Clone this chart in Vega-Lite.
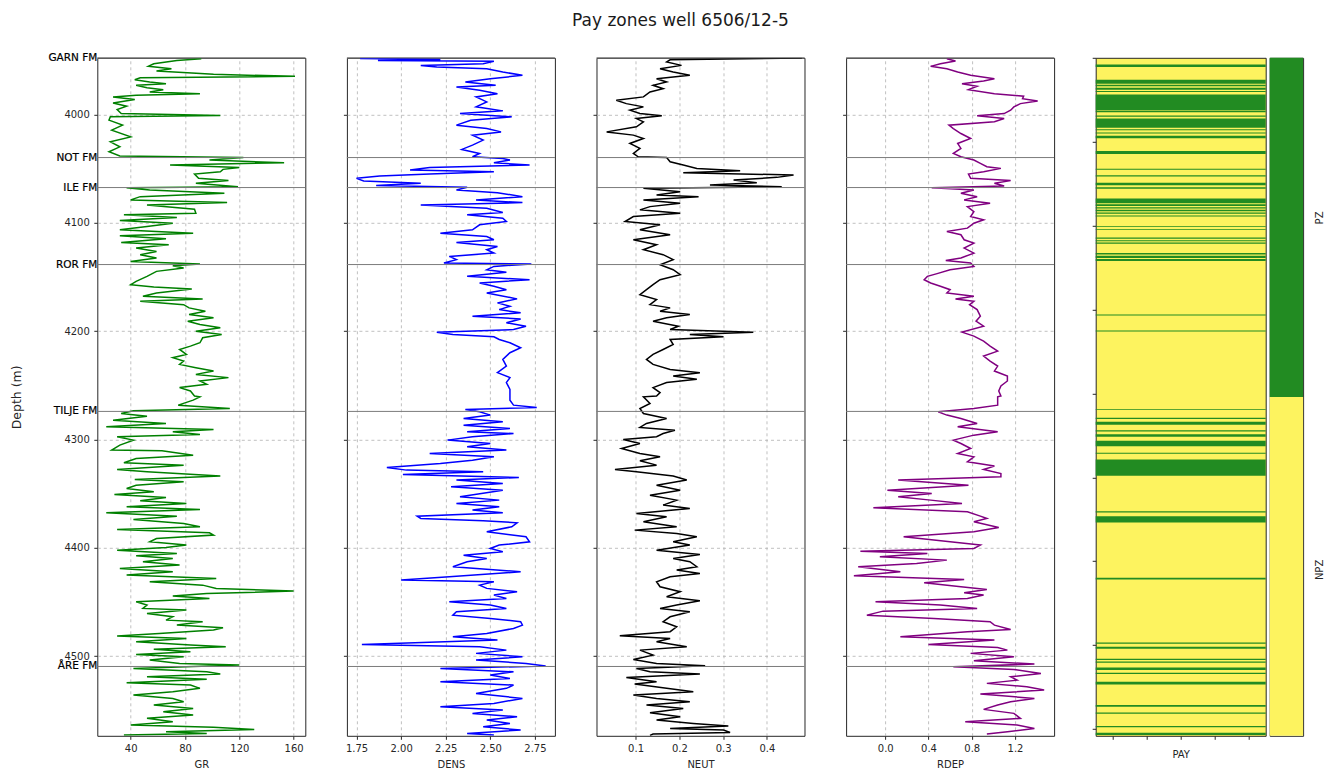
{
"$schema": "https://vega.github.io/schema/vega-lite/v6.json",
"padding": {"left": 10.3, "top": 11.8, "right": 5, "bottom": 5},
"title": {"text": "Pay zones well 6506/12-5", "fontSize": 17, "font": "DejaVu Sans", "fontWeight": "normal", "color": "#1a1a1a", "anchor": "middle", "offset": 22.5, "dx": 13},
"config": {
  "font": "DejaVu Sans",
  "view": {"stroke": "#262626", "strokeWidth": 1},
  "axis": {"labelFont": "DejaVu Sans", "labelFontSize": 10, "labelColor": "#262626", "titleFont": "DejaVu Sans", "titleFontSize": 10, "titleFontWeight": "normal", "titleColor": "#262626", "tickColor": "#262626", "tickSize": 3.5, "domain": false, "gridColor": "#b0b0b0", "gridDash": [3, 3], "gridWidth": 0.8, "labelPadding": 4.5, "labelFlush": false, "titlePadding": 6}
},
"datasets": {
"tops": [{"name": "GARN FM", "depth": 3947.6}, {"name": "NOT FM", "depth": 4039.7}, {"name": "ILE FM", "depth": 4067.4}, {"name": "ROR FM", "depth": 4138.5}, {"name": "TILJE FM", "depth": 4274.1}, {"name": "ÅRE FM", "depth": 4509.6}],
"gr": [
{"depth":3948.5,"GR":92},{"depth":3950.0,"GR":74},{"depth":3953.1,"GR":57},{"depth":3955.5,"GR":53},{"depth":3957.7,"GR":70},{"depth":3959.8,"GR":59},{"depth":3961.7,"GR":85},{"depth":3962.9,"GR":101},{"depth":3964.7,"GR":161},{"depth":3966.0,"GR":47},{"depth":3967.8,"GR":43},{"depth":3969.9,"GR":54},{"depth":3971.5,"GR":66},{"depth":3973.0,"GR":44},{"depth":3975.2,"GR":52},{"depth":3977.0,"GR":64},{"depth":3979.1,"GR":54},{"depth":3980.7,"GR":91},{"depth":3982.2,"GR":44},{"depth":3983.7,"GR":27},{"depth":3986.2,"GR":43},{"depth":3989.3,"GR":27},{"depth":3992.3,"GR":37},{"depth":3995.4,"GR":30},{"depth":3999.1,"GR":33},{"depth":4000.9,"GR":106},{"depth":4002.1,"GR":25},{"depth":4005.2,"GR":24},{"depth":4009.8,"GR":34},{"depth":4014.4,"GR":26},{"depth":4020.6,"GR":40},{"depth":4025.2,"GR":25},{"depth":4029.8,"GR":32},{"depth":4034.4,"GR":24},{"depth":4038.3,"GR":32},{"depth":4039.6,"GR":123},{"depth":4042.0,"GR":98},{"depth":4044.5,"GR":153},{"depth":4046.6,"GR":69},{"depth":4048.8,"GR":120},{"depth":4050.6,"GR":108},{"depth":4052.8,"GR":106},{"depth":4054.9,"GR":87},{"depth":4058.9,"GR":90},{"depth":4061.0,"GR":112},{"depth":4063.5,"GR":88},{"depth":4066.6,"GR":119},{"depth":4067.5,"GR":37},{"depth":4069.6,"GR":54},{"depth":4072.7,"GR":109},{"depth":4075.8,"GR":47},{"depth":4078.8,"GR":40},{"depth":4081.3,"GR":111},{"depth":4083.4,"GR":52},{"depth":4087.4,"GR":87},{"depth":4091.1,"GR":88},{"depth":4092.6,"GR":35},{"depth":4095.1,"GR":74},{"depth":4097.9,"GR":32},{"depth":4100.3,"GR":71},{"depth":4103.4,"GR":52},{"depth":4106.4,"GR":32},{"depth":4109.5,"GR":86},{"depth":4112.0,"GR":32},{"depth":4114.7,"GR":66},{"depth":4118.1,"GR":33},{"depth":4120.2,"GR":68},{"depth":4123.3,"GR":44},{"depth":4126.4,"GR":59},{"depth":4129.4,"GR":47},{"depth":4132.5,"GR":59},{"depth":4135.6,"GR":40},{"depth":4138.0,"GR":91},{"depth":4139.6,"GR":71},{"depth":4141.7,"GR":79},{"depth":4144.8,"GR":59},{"depth":4149.4,"GR":52},{"depth":4154.0,"GR":44},{"depth":4157.1,"GR":40},{"depth":4159.2,"GR":57},{"depth":4161.0,"GR":85},{"depth":4164.7,"GR":59},{"depth":4167.8,"GR":49},{"depth":4170.2,"GR":93},{"depth":4172.4,"GR":47},{"depth":4175.5,"GR":79},{"depth":4178.5,"GR":83},{"depth":4181.6,"GR":95},{"depth":4184.7,"GR":83},{"depth":4187.7,"GR":101},{"depth":4190.8,"GR":82},{"depth":4193.9,"GR":91},{"depth":4196.9,"GR":106},{"depth":4200.0,"GR":88},{"depth":4203.1,"GR":107},{"depth":4206.1,"GR":93},{"depth":4210.7,"GR":91},{"depth":4213.8,"GR":84},{"depth":4216.9,"GR":76},{"depth":4221.5,"GR":81},{"depth":4224.5,"GR":71},{"depth":4227.6,"GR":79},{"depth":4230.7,"GR":76},{"depth":4233.7,"GR":88},{"depth":4236.8,"GR":101},{"depth":4239.9,"GR":88},{"depth":4242.9,"GR":112},{"depth":4246.0,"GR":91},{"depth":4249.1,"GR":96},{"depth":4252.1,"GR":76},{"depth":4255.2,"GR":84},{"depth":4259.8,"GR":87},{"depth":4260.6,"GR":91},{"depth":4263.7,"GR":86},{"depth":4268.3,"GR":75},{"depth":4271.4,"GR":113},{"depth":4273.5,"GR":42},{"depth":4276.0,"GR":33},{"depth":4278.5,"GR":52},{"depth":4282.2,"GR":27},{"depth":4285.2,"GR":66},{"depth":4288.3,"GR":22},{"depth":4290.8,"GR":101},{"depth":4292.9,"GR":71},{"depth":4295.4,"GR":91},{"depth":4297.5,"GR":30},{"depth":4300.6,"GR":42},{"depth":4305.2,"GR":32},{"depth":4309.8,"GR":26},{"depth":4310.5,"GR":63},{"depth":4314.5,"GR":86},{"depth":4317.5,"GR":44},{"depth":4321.5,"GR":35},{"depth":4323.7,"GR":79},{"depth":4327.7,"GR":30},{"depth":4329.8,"GR":52},{"depth":4333.8,"GR":106},{"depth":4336.9,"GR":43},{"depth":4339.1,"GR":79},{"depth":4342.2,"GR":44},{"depth":4345.2,"GR":37},{"depth":4348.3,"GR":57},{"depth":4350.8,"GR":28},{"depth":4353.5,"GR":66},{"depth":4356.6,"GR":47},{"depth":4359.1,"GR":81},{"depth":4362.2,"GR":37},{"depth":4364.6,"GR":91},{"depth":4367.7,"GR":22},{"depth":4370.8,"GR":74},{"depth":4373.8,"GR":42},{"depth":4377.5,"GR":79},{"depth":4380.6,"GR":91},{"depth":4383.1,"GR":30},{"depth":4386.2,"GR":98},{"depth":4388.3,"GR":101},{"depth":4391.4,"GR":59},{"depth":4394.5,"GR":54},{"depth":4397.5,"GR":81},{"depth":4399.7,"GR":66},{"depth":4402.2,"GR":30},{"depth":4405.2,"GR":74},{"depth":4407.4,"GR":44},{"depth":4409.8,"GR":71},{"depth":4412.9,"GR":49},{"depth":4416.0,"GR":76},{"depth":4419.1,"GR":32},{"depth":4422.2,"GR":71},{"depth":4425.2,"GR":37},{"depth":4428.3,"GR":103},{"depth":4431.4,"GR":54},{"depth":4434.5,"GR":93},{"depth":4437.5,"GR":103},{"depth":4440.0,"GR":160},{"depth":4442.2,"GR":96},{"depth":4444.6,"GR":71},{"depth":4446.8,"GR":98},{"depth":4449.8,"GR":44},{"depth":4452.9,"GR":52},{"depth":4456.0,"GR":49},{"depth":4457.5,"GR":81},{"depth":4460.6,"GR":52},{"depth":4463.7,"GR":71},{"depth":4466.8,"GR":66},{"depth":4468.3,"GR":93},{"depth":4471.4,"GR":74},{"depth":4473.8,"GR":108},{"depth":4476.0,"GR":101},{"depth":4479.1,"GR":61},{"depth":4481.5,"GR":30},{"depth":4483.7,"GR":81},{"depth":4486.8,"GR":44},{"depth":4489.8,"GR":84},{"depth":4491.4,"GR":110},{"depth":4493.8,"GR":57},{"depth":4496.0,"GR":84},{"depth":4498.5,"GR":44},{"depth":4500.6,"GR":79},{"depth":4503.7,"GR":54},{"depth":4506.8,"GR":76},{"depth":4508.3,"GR":120},{"depth":4511.4,"GR":42},{"depth":4514.5,"GR":96},{"depth":4516.6,"GR":106},{"depth":4519.1,"GR":52},{"depth":4521.5,"GR":96},{"depth":4524.6,"GR":37},{"depth":4526.8,"GR":84},{"depth":4529.8,"GR":91},{"depth":4532.9,"GR":71},{"depth":4536.0,"GR":42},{"depth":4539.1,"GR":71},{"depth":4542.2,"GR":79},{"depth":4545.2,"GR":57},{"depth":4548.3,"GR":86},{"depth":4551.4,"GR":64},{"depth":4554.5,"GR":86},{"depth":4557.5,"GR":52},{"depth":4560.6,"GR":71},{"depth":4563.7,"GR":40},{"depth":4565.8,"GR":101},{"depth":4567.7,"GR":131},{"depth":4569.8,"GR":66},{"depth":4571.4,"GR":96},{"depth":4572.9,"GR":35}
],
"dens": [
{"depth":3948.2,"DENS":1.77},{"depth":3949.1,"DENS":2.22},{"depth":3950.0,"DENS":1.87},{"depth":3950.9,"DENS":2.52},{"depth":3953.1,"DENS":2.46},{"depth":3954.6,"DENS":2.11},{"depth":3956.1,"DENS":2.20},{"depth":3957.7,"DENS":2.48},{"depth":3960.7,"DENS":2.57},{"depth":3963.8,"DENS":2.68},{"depth":3966.9,"DENS":2.50},{"depth":3969.9,"DENS":2.36},{"depth":3973.0,"DENS":2.53},{"depth":3974.5,"DENS":2.31},{"depth":3977.6,"DENS":2.44},{"depth":3980.7,"DENS":2.54},{"depth":3983.7,"DENS":2.42},{"depth":3988.3,"DENS":2.48},{"depth":3992.9,"DENS":2.42},{"depth":3996.6,"DENS":2.57},{"depth":3999.1,"DENS":2.33},{"depth":4002.1,"DENS":2.62},{"depth":4005.2,"DENS":2.39},{"depth":4009.8,"DENS":2.31},{"depth":4012.9,"DENS":2.48},{"depth":4016.0,"DENS":2.56},{"depth":4019.0,"DENS":2.40},{"depth":4023.6,"DENS":2.46},{"depth":4028.2,"DENS":2.40},{"depth":4032.2,"DENS":2.34},{"depth":4035.9,"DENS":2.44},{"depth":4039.0,"DENS":2.40},{"depth":4040.5,"DENS":2.57},{"depth":4042.0,"DENS":2.61},{"depth":4044.5,"DENS":2.52},{"depth":4046.6,"DENS":2.72},{"depth":4048.8,"DENS":2.16},{"depth":4051.2,"DENS":2.05},{"depth":4052.8,"DENS":2.52},{"depth":4054.9,"DENS":2.16},{"depth":4056.7,"DENS":1.88},{"depth":4058.9,"DENS":1.75},{"depth":4061.3,"DENS":1.79},{"depth":4063.5,"DENS":2.11},{"depth":4065.6,"DENS":1.86},{"depth":4067.2,"DENS":2.37},{"depth":4069.6,"DENS":2.31},{"depth":4072.1,"DENS":2.54},{"depth":4075.8,"DENS":2.68},{"depth":4078.8,"DENS":2.42},{"depth":4081.3,"DENS":2.68},{"depth":4083.4,"DENS":2.11},{"depth":4086.5,"DENS":2.48},{"depth":4090.5,"DENS":2.57},{"depth":4092.6,"DENS":2.37},{"depth":4095.7,"DENS":2.57},{"depth":4098.8,"DENS":2.59},{"depth":4101.8,"DENS":2.44},{"depth":4106.4,"DENS":2.40},{"depth":4109.5,"DENS":2.22},{"depth":4112.6,"DENS":2.48},{"depth":4115.6,"DENS":2.52},{"depth":4118.1,"DENS":2.31},{"depth":4121.8,"DENS":2.54},{"depth":4124.8,"DENS":2.48},{"depth":4127.9,"DENS":2.52},{"depth":4131.0,"DENS":2.27},{"depth":4134.0,"DENS":2.31},{"depth":4137.1,"DENS":2.24},{"depth":4138.0,"DENS":2.73},{"depth":4140.2,"DENS":2.52},{"depth":4143.3,"DENS":2.48},{"depth":4145.7,"DENS":2.59},{"depth":4149.4,"DENS":2.37},{"depth":4152.5,"DENS":2.72},{"depth":4155.5,"DENS":2.44},{"depth":4158.6,"DENS":2.52},{"depth":4161.7,"DENS":2.59},{"depth":4164.7,"DENS":2.48},{"depth":4170.2,"DENS":2.65},{"depth":4173.9,"DENS":2.54},{"depth":4177.0,"DENS":2.61},{"depth":4180.1,"DENS":2.55},{"depth":4183.1,"DENS":2.67},{"depth":4186.2,"DENS":2.40},{"depth":4188.7,"DENS":2.67},{"depth":4192.3,"DENS":2.59},{"depth":4195.4,"DENS":2.70},{"depth":4198.5,"DENS":2.63},{"depth":4200.9,"DENS":2.20},{"depth":4203.1,"DENS":2.29},{"depth":4205.2,"DENS":2.52},{"depth":4207.7,"DENS":2.55},{"depth":4210.7,"DENS":2.61},{"depth":4215.3,"DENS":2.67},{"depth":4219.9,"DENS":2.61},{"depth":4226.1,"DENS":2.57},{"depth":4232.2,"DENS":2.59},{"depth":4238.3,"DENS":2.54},{"depth":4242.9,"DENS":2.61},{"depth":4247.5,"DENS":2.59},{"depth":4253.7,"DENS":2.61},{"depth":4259.8,"DENS":2.61},{"depth":4263.7,"DENS":2.61},{"depth":4268.3,"DENS":2.63},{"depth":4270.5,"DENS":2.76},{"depth":4272.3,"DENS":2.36},{"depth":4274.5,"DENS":2.44},{"depth":4277.5,"DENS":2.50},{"depth":4280.6,"DENS":2.35},{"depth":4283.7,"DENS":2.57},{"depth":4286.8,"DENS":2.35},{"depth":4289.8,"DENS":2.61},{"depth":4292.9,"DENS":2.37},{"depth":4294.5,"DENS":2.63},{"depth":4297.5,"DENS":2.40},{"depth":4300.6,"DENS":2.26},{"depth":4303.7,"DENS":2.50},{"depth":4306.8,"DENS":2.37},{"depth":4309.8,"DENS":2.59},{"depth":4312.9,"DENS":2.16},{"depth":4316.0,"DENS":2.52},{"depth":4319.1,"DENS":2.40},{"depth":4322.2,"DENS":2.22},{"depth":4325.8,"DENS":1.92},{"depth":4328.3,"DENS":2.03},{"depth":4329.8,"DENS":2.46},{"depth":4332.3,"DENS":2.01},{"depth":4335.1,"DENS":2.66},{"depth":4337.5,"DENS":2.31},{"depth":4340.6,"DENS":2.57},{"depth":4343.7,"DENS":2.28},{"depth":4346.8,"DENS":2.57},{"depth":4349.8,"DENS":2.45},{"depth":4352.9,"DENS":2.33},{"depth":4356.0,"DENS":2.55},{"depth":4359.1,"DENS":2.31},{"depth":4362.2,"DENS":2.55},{"depth":4365.2,"DENS":2.40},{"depth":4367.7,"DENS":2.57},{"depth":4370.8,"DENS":2.09},{"depth":4372.9,"DENS":2.11},{"depth":4375.1,"DENS":2.46},{"depth":4376.9,"DENS":2.65},{"depth":4380.6,"DENS":2.62},{"depth":4385.2,"DENS":2.48},{"depth":4389.8,"DENS":2.70},{"depth":4394.5,"DENS":2.72},{"depth":4397.5,"DENS":2.55},{"depth":4400.6,"DENS":2.50},{"depth":4403.7,"DENS":2.57},{"depth":4406.8,"DENS":2.35},{"depth":4409.8,"DENS":2.48},{"depth":4412.9,"DENS":2.37},{"depth":4417.5,"DENS":2.29},{"depth":4422.2,"DENS":2.67},{"depth":4426.8,"DENS":2.27},{"depth":4429.8,"DENS":2.00},{"depth":4431.4,"DENS":2.52},{"depth":4434.5,"DENS":2.44},{"depth":4437.5,"DENS":2.48},{"depth":4440.6,"DENS":2.65},{"depth":4443.7,"DENS":2.52},{"depth":4446.8,"DENS":2.59},{"depth":4449.8,"DENS":2.27},{"depth":4452.9,"DENS":2.50},{"depth":4456.0,"DENS":2.59},{"depth":4459.1,"DENS":2.31},{"depth":4462.2,"DENS":2.29},{"depth":4465.2,"DENS":2.50},{"depth":4468.3,"DENS":2.67},{"depth":4471.4,"DENS":2.68},{"depth":4474.5,"DENS":2.63},{"depth":4479.1,"DENS":2.48},{"depth":4482.2,"DENS":2.29},{"depth":4485.2,"DENS":2.54},{"depth":4489.2,"DENS":1.78},{"depth":4491.4,"DENS":2.44},{"depth":4494.5,"DENS":2.59},{"depth":4497.5,"DENS":2.42},{"depth":4500.6,"DENS":2.68},{"depth":4503.7,"DENS":2.42},{"depth":4506.8,"DENS":2.70},{"depth":4509.2,"DENS":2.81},{"depth":4511.4,"DENS":2.22},{"depth":4514.5,"DENS":2.63},{"depth":4517.5,"DENS":2.50},{"depth":4520.6,"DENS":2.61},{"depth":4523.7,"DENS":2.22},{"depth":4526.8,"DENS":2.63},{"depth":4529.8,"DENS":2.59},{"depth":4534.5,"DENS":2.42},{"depth":4539.1,"DENS":2.68},{"depth":4543.7,"DENS":2.52},{"depth":4546.8,"DENS":2.22},{"depth":4549.8,"DENS":2.57},{"depth":4552.9,"DENS":2.40},{"depth":4556.0,"DENS":2.65},{"depth":4559.1,"DENS":2.48},{"depth":4562.2,"DENS":2.61},{"depth":4565.2,"DENS":2.46},{"depth":4568.3,"DENS":2.67},{"depth":4571.4,"DENS":2.37},{"depth":4572.9,"DENS":2.52}
],
"neut": [
{"depth":3947.8,"NEUT":0.48},{"depth":3949.4,"NEUT":0.179},{"depth":3951.5,"NEUT":0.171},{"depth":3954.6,"NEUT":0.205},{"depth":3957.7,"NEUT":0.156},{"depth":3960.7,"NEUT":0.186},{"depth":3963.8,"NEUT":0.224},{"depth":3966.9,"NEUT":0.148},{"depth":3969.9,"NEUT":0.171},{"depth":3973.0,"NEUT":0.140},{"depth":3976.1,"NEUT":0.163},{"depth":3979.1,"NEUT":0.133},{"depth":3983.7,"NEUT":0.118},{"depth":3986.8,"NEUT":0.056},{"depth":3989.9,"NEUT":0.079},{"depth":3992.9,"NEUT":0.118},{"depth":3996.0,"NEUT":0.087},{"depth":3999.1,"NEUT":0.110},{"depth":4001.2,"NEUT":0.160},{"depth":4003.7,"NEUT":0.102},{"depth":4006.7,"NEUT":0.118},{"depth":4011.3,"NEUT":0.102},{"depth":4016.0,"NEUT":0.034},{"depth":4019.0,"NEUT":0.095},{"depth":4022.1,"NEUT":0.118},{"depth":4026.7,"NEUT":0.087},{"depth":4031.3,"NEUT":0.110},{"depth":4035.9,"NEUT":0.095},{"depth":4039.0,"NEUT":0.106},{"depth":4039.6,"NEUT":0.171},{"depth":4043.6,"NEUT":0.179},{"depth":4046.6,"NEUT":0.209},{"depth":4049.7,"NEUT":0.240},{"depth":4051.8,"NEUT":0.339},{"depth":4053.7,"NEUT":0.209},{"depth":4055.8,"NEUT":0.461},{"depth":4058.0,"NEUT":0.423},{"depth":4060.4,"NEUT":0.324},{"depth":4062.9,"NEUT":0.377},{"depth":4065.0,"NEUT":0.270},{"depth":4066.6,"NEUT":0.434},{"depth":4068.1,"NEUT":0.118},{"depth":4071.2,"NEUT":0.202},{"depth":4074.2,"NEUT":0.148},{"depth":4075.8,"NEUT":0.244},{"depth":4078.8,"NEUT":0.118},{"depth":4081.9,"NEUT":0.202},{"depth":4085.0,"NEUT":0.133},{"depth":4088.0,"NEUT":0.110},{"depth":4091.1,"NEUT":0.202},{"depth":4094.2,"NEUT":0.095},{"depth":4098.8,"NEUT":0.076},{"depth":4101.8,"NEUT":0.156},{"depth":4106.4,"NEUT":0.110},{"depth":4111.0,"NEUT":0.179},{"depth":4115.6,"NEUT":0.095},{"depth":4120.2,"NEUT":0.148},{"depth":4124.8,"NEUT":0.118},{"depth":4129.4,"NEUT":0.163},{"depth":4134.0,"NEUT":0.186},{"depth":4138.7,"NEUT":0.156},{"depth":4143.3,"NEUT":0.186},{"depth":4147.9,"NEUT":0.202},{"depth":4152.5,"NEUT":0.156},{"depth":4157.1,"NEUT":0.140},{"depth":4161.7,"NEUT":0.125},{"depth":4166.3,"NEUT":0.110},{"depth":4170.9,"NEUT":0.148},{"depth":4175.5,"NEUT":0.133},{"depth":4178.5,"NEUT":0.179},{"depth":4181.6,"NEUT":0.156},{"depth":4184.7,"NEUT":0.224},{"depth":4187.7,"NEUT":0.171},{"depth":4190.8,"NEUT":0.140},{"depth":4195.4,"NEUT":0.198},{"depth":4198.5,"NEUT":0.179},{"depth":4200.9,"NEUT":0.369},{"depth":4203.1,"NEUT":0.224},{"depth":4205.2,"NEUT":0.301},{"depth":4207.7,"NEUT":0.179},{"depth":4212.3,"NEUT":0.186},{"depth":4216.9,"NEUT":0.163},{"depth":4221.5,"NEUT":0.140},{"depth":4226.1,"NEUT":0.125},{"depth":4230.7,"NEUT":0.140},{"depth":4235.3,"NEUT":0.179},{"depth":4238.3,"NEUT":0.247},{"depth":4241.4,"NEUT":0.186},{"depth":4244.5,"NEUT":0.240},{"depth":4247.5,"NEUT":0.171},{"depth":4252.1,"NEUT":0.140},{"depth":4256.7,"NEUT":0.156},{"depth":4259.8,"NEUT":0.148},{"depth":4260.6,"NEUT":0.118},{"depth":4266.8,"NEUT":0.133},{"depth":4271.4,"NEUT":0.110},{"depth":4276.0,"NEUT":0.118},{"depth":4280.6,"NEUT":0.171},{"depth":4285.2,"NEUT":0.125},{"depth":4288.9,"NEUT":0.110},{"depth":4291.4,"NEUT":0.190},{"depth":4294.5,"NEUT":0.163},{"depth":4297.5,"NEUT":0.148},{"depth":4300.0,"NEUT":0.072},{"depth":4303.7,"NEUT":0.110},{"depth":4308.3,"NEUT":0.068},{"depth":4312.9,"NEUT":0.110},{"depth":4316.0,"NEUT":0.156},{"depth":4319.7,"NEUT":0.110},{"depth":4323.7,"NEUT":0.148},{"depth":4327.7,"NEUT":0.053},{"depth":4329.8,"NEUT":0.102},{"depth":4333.8,"NEUT":0.186},{"depth":4337.5,"NEUT":0.217},{"depth":4342.2,"NEUT":0.148},{"depth":4346.8,"NEUT":0.202},{"depth":4351.4,"NEUT":0.133},{"depth":4356.0,"NEUT":0.194},{"depth":4360.6,"NEUT":0.163},{"depth":4363.7,"NEUT":0.224},{"depth":4368.3,"NEUT":0.102},{"depth":4371.4,"NEUT":0.171},{"depth":4376.0,"NEUT":0.118},{"depth":4380.6,"NEUT":0.194},{"depth":4383.7,"NEUT":0.098},{"depth":4386.8,"NEUT":0.194},{"depth":4389.8,"NEUT":0.240},{"depth":4394.5,"NEUT":0.186},{"depth":4397.5,"NEUT":0.224},{"depth":4402.2,"NEUT":0.148},{"depth":4406.2,"NEUT":0.247},{"depth":4409.8,"NEUT":0.186},{"depth":4412.9,"NEUT":0.224},{"depth":4417.5,"NEUT":0.240},{"depth":4420.6,"NEUT":0.194},{"depth":4423.7,"NEUT":0.247},{"depth":4426.8,"NEUT":0.179},{"depth":4431.4,"NEUT":0.148},{"depth":4436.0,"NEUT":0.156},{"depth":4440.6,"NEUT":0.202},{"depth":4445.2,"NEUT":0.171},{"depth":4448.9,"NEUT":0.247},{"depth":4452.9,"NEUT":0.194},{"depth":4456.0,"NEUT":0.156},{"depth":4459.1,"NEUT":0.224},{"depth":4463.7,"NEUT":0.179},{"depth":4468.3,"NEUT":0.163},{"depth":4472.9,"NEUT":0.194},{"depth":4477.5,"NEUT":0.179},{"depth":4481.2,"NEUT":0.064},{"depth":4483.7,"NEUT":0.179},{"depth":4486.8,"NEUT":0.148},{"depth":4491.4,"NEUT":0.217},{"depth":4494.5,"NEUT":0.110},{"depth":4499.1,"NEUT":0.140},{"depth":4503.1,"NEUT":0.095},{"depth":4506.8,"NEUT":0.148},{"depth":4508.9,"NEUT":0.259},{"depth":4511.4,"NEUT":0.102},{"depth":4514.5,"NEUT":0.133},{"depth":4516.6,"NEUT":0.247},{"depth":4519.7,"NEUT":0.079},{"depth":4523.7,"NEUT":0.148},{"depth":4525.8,"NEUT":0.098},{"depth":4529.8,"NEUT":0.171},{"depth":4532.9,"NEUT":0.232},{"depth":4536.0,"NEUT":0.095},{"depth":4539.1,"NEUT":0.148},{"depth":4542.2,"NEUT":0.224},{"depth":4545.2,"NEUT":0.125},{"depth":4548.3,"NEUT":0.209},{"depth":4552.3,"NEUT":0.133},{"depth":4556.0,"NEUT":0.202},{"depth":4559.1,"NEUT":0.148},{"depth":4562.2,"NEUT":0.232},{"depth":4564.6,"NEUT":0.312},{"depth":4566.8,"NEUT":0.179},{"depth":4568.3,"NEUT":0.301},{"depth":4570.5,"NEUT":0.316},{"depth":4572.0,"NEUT":0.140},{"depth":4573.2,"NEUT":0.133}
],
"rdep": [
{"depth":3948.5,"RDEP":0.57},{"depth":3950.6,"RDEP":0.65},{"depth":3953.1,"RDEP":0.51},{"depth":3955.5,"RDEP":0.42},{"depth":3957.7,"RDEP":0.57},{"depth":3960.7,"RDEP":0.67},{"depth":3963.8,"RDEP":0.79},{"depth":3966.9,"RDEP":1.01},{"depth":3969.0,"RDEP":0.91},{"depth":3971.5,"RDEP":0.71},{"depth":3973.9,"RDEP":0.85},{"depth":3977.0,"RDEP":0.77},{"depth":3980.7,"RDEP":1.01},{"depth":3983.1,"RDEP":1.28},{"depth":3985.3,"RDEP":1.27},{"depth":3987.4,"RDEP":1.41},{"depth":3989.9,"RDEP":1.25},{"depth":3992.9,"RDEP":1.19},{"depth":3996.0,"RDEP":1.16},{"depth":3999.1,"RDEP":1.10},{"depth":4001.2,"RDEP":0.85},{"depth":4003.7,"RDEP":1.10},{"depth":4006.7,"RDEP":1.01},{"depth":4009.8,"RDEP":0.59},{"depth":4012.9,"RDEP":0.63},{"depth":4017.5,"RDEP":0.70},{"depth":4022.1,"RDEP":0.79},{"depth":4026.7,"RDEP":0.67},{"depth":4031.3,"RDEP":0.70},{"depth":4035.9,"RDEP":0.63},{"depth":4039.0,"RDEP":0.70},{"depth":4042.0,"RDEP":0.82},{"depth":4045.1,"RDEP":0.88},{"depth":4048.2,"RDEP":0.94},{"depth":4049.7,"RDEP":1.07},{"depth":4052.8,"RDEP":0.91},{"depth":4054.9,"RDEP":0.77},{"depth":4058.9,"RDEP":0.79},{"depth":4061.0,"RDEP":1.16},{"depth":4063.5,"RDEP":1.01},{"depth":4066.0,"RDEP":1.10},{"depth":4067.5,"RDEP":0.43},{"depth":4069.6,"RDEP":0.82},{"depth":4072.7,"RDEP":0.70},{"depth":4075.8,"RDEP":0.85},{"depth":4078.8,"RDEP":0.73},{"depth":4081.9,"RDEP":0.97},{"depth":4085.0,"RDEP":0.76},{"depth":4089.6,"RDEP":0.82},{"depth":4094.2,"RDEP":0.79},{"depth":4097.2,"RDEP":0.91},{"depth":4100.3,"RDEP":0.82},{"depth":4104.9,"RDEP":0.76},{"depth":4108.0,"RDEP":0.57},{"depth":4111.0,"RDEP":0.70},{"depth":4115.6,"RDEP":0.73},{"depth":4118.7,"RDEP":0.82},{"depth":4123.3,"RDEP":0.73},{"depth":4127.9,"RDEP":0.82},{"depth":4132.5,"RDEP":0.70},{"depth":4134.7,"RDEP":0.56},{"depth":4137.1,"RDEP":0.79},{"depth":4140.2,"RDEP":0.82},{"depth":4143.3,"RDEP":0.60},{"depth":4146.9,"RDEP":0.48},{"depth":4149.4,"RDEP":0.39},{"depth":4152.5,"RDEP":0.36},{"depth":4155.5,"RDEP":0.42},{"depth":4158.6,"RDEP":0.51},{"depth":4161.7,"RDEP":0.60},{"depth":4164.7,"RDEP":0.57},{"depth":4167.8,"RDEP":0.82},{"depth":4170.2,"RDEP":0.65},{"depth":4172.4,"RDEP":0.82},{"depth":4175.5,"RDEP":0.78},{"depth":4180.1,"RDEP":0.85},{"depth":4186.2,"RDEP":0.88},{"depth":4190.8,"RDEP":0.84},{"depth":4195.4,"RDEP":0.91},{"depth":4200.9,"RDEP":0.71},{"depth":4204.6,"RDEP":0.82},{"depth":4209.2,"RDEP":0.91},{"depth":4213.8,"RDEP":0.97},{"depth":4218.4,"RDEP":1.04},{"depth":4223.0,"RDEP":0.91},{"depth":4227.6,"RDEP":0.97},{"depth":4232.2,"RDEP":1.04},{"depth":4236.8,"RDEP":1.01},{"depth":4241.4,"RDEP":1.13},{"depth":4246.0,"RDEP":1.13},{"depth":4250.6,"RDEP":1.07},{"depth":4255.2,"RDEP":1.05},{"depth":4259.8,"RDEP":1.07},{"depth":4260.6,"RDEP":1.04},{"depth":4268.3,"RDEP":1.04},{"depth":4271.4,"RDEP":0.82},{"depth":4274.5,"RDEP":0.49},{"depth":4277.5,"RDEP":0.57},{"depth":4280.6,"RDEP":0.70},{"depth":4285.2,"RDEP":0.85},{"depth":4288.3,"RDEP":0.67},{"depth":4292.9,"RDEP":1.04},{"depth":4296.0,"RDEP":0.82},{"depth":4300.6,"RDEP":0.63},{"depth":4303.7,"RDEP":0.70},{"depth":4308.3,"RDEP":0.79},{"depth":4312.9,"RDEP":0.67},{"depth":4316.0,"RDEP":0.82},{"depth":4320.6,"RDEP":0.76},{"depth":4324.6,"RDEP":1.01},{"depth":4327.7,"RDEP":0.91},{"depth":4331.4,"RDEP":1.07},{"depth":4334.5,"RDEP":1.07},{"depth":4337.5,"RDEP":0.12},{"depth":4342.2,"RDEP":0.77},{"depth":4346.8,"RDEP":0.02},{"depth":4349.8,"RDEP":0.43},{"depth":4352.9,"RDEP":0.12},{"depth":4356.0,"RDEP":0.42},{"depth":4359.1,"RDEP":0.71},{"depth":4363.1,"RDEP":-0.11},{"depth":4366.8,"RDEP":0.76},{"depth":4370.8,"RDEP":0.88},{"depth":4372.9,"RDEP":0.94},{"depth":4376.0,"RDEP":0.82},{"depth":4381.2,"RDEP":1.05},{"depth":4385.2,"RDEP":0.82},{"depth":4389.8,"RDEP":0.17},{"depth":4394.5,"RDEP":0.60},{"depth":4397.5,"RDEP":0.88},{"depth":4400.6,"RDEP":0.82},{"depth":4403.1,"RDEP":-0.23},{"depth":4405.2,"RDEP":0.39},{"depth":4408.3,"RDEP":-0.05},{"depth":4411.4,"RDEP":0.57},{"depth":4414.5,"RDEP":0.29},{"depth":4417.5,"RDEP":-0.25},{"depth":4422.2,"RDEP":0.14},{"depth":4425.8,"RDEP":-0.29},{"depth":4429.2,"RDEP":0.73},{"depth":4432.3,"RDEP":0.36},{"depth":4436.0,"RDEP":0.70},{"depth":4438.5,"RDEP":0.94},{"depth":4441.5,"RDEP":0.73},{"depth":4443.7,"RDEP":0.91},{"depth":4446.8,"RDEP":0.76},{"depth":4449.8,"RDEP":-0.09},{"depth":4452.9,"RDEP":0.51},{"depth":4456.0,"RDEP":0.85},{"depth":4458.5,"RDEP":-0.02},{"depth":4462.2,"RDEP":-0.17},{"depth":4465.2,"RDEP":0.45},{"depth":4468.3,"RDEP":0.97},{"depth":4471.4,"RDEP":1.01},{"depth":4475.4,"RDEP":1.16},{"depth":4477.5,"RDEP":0.76},{"depth":4482.2,"RDEP":0.14},{"depth":4485.2,"RDEP":1.01},{"depth":4489.2,"RDEP":0.40},{"depth":4492.0,"RDEP":1.04},{"depth":4494.5,"RDEP":1.13},{"depth":4497.5,"RDEP":0.79},{"depth":4500.6,"RDEP":1.19},{"depth":4504.3,"RDEP":0.82},{"depth":4507.4,"RDEP":1.38},{"depth":4509.8,"RDEP":0.63},{"depth":4512.3,"RDEP":1.19},{"depth":4516.0,"RDEP":1.44},{"depth":4519.1,"RDEP":1.16},{"depth":4522.2,"RDEP":1.22},{"depth":4525.2,"RDEP":0.94},{"depth":4528.3,"RDEP":1.31},{"depth":4531.4,"RDEP":1.47},{"depth":4535.1,"RDEP":0.88},{"depth":4539.1,"RDEP":1.38},{"depth":4542.2,"RDEP":1.16},{"depth":4545.2,"RDEP":1.04},{"depth":4549.2,"RDEP":0.91},{"depth":4552.9,"RDEP":1.19},{"depth":4557.5,"RDEP":1.25},{"depth":4560.6,"RDEP":0.74},{"depth":4563.7,"RDEP":1.22},{"depth":4566.8,"RDEP":1.38},{"depth":4569.8,"RDEP":1.13},{"depth":4572.0,"RDEP":0.94}
],
"pay": [
{"top":3953.7,"base":3956.1},{"top":3967.8,"base":3971.5},{"top":3972.4,"base":3973.9},{"top":3975.2,"base":3977.0},{"top":3978.2,"base":3979.1},{"top":3981.6,"base":3996.0},{"top":3996.6,"base":3997.9},{"top":4000.9,"base":4002.1},{"top":4003.7,"base":4012.3},{"top":4013.5,"base":4014.4},{"top":4016.6,"base":4017.5},{"top":4019.6,"base":4021.8},{"top":4033.7,"base":4036.5},{"top":4050.0,"base":4050.9},{"top":4056.1,"base":4057.1},{"top":4062.9,"base":4065.3},{"top":4067.2,"base":4068.4},{"top":4077.6,"base":4081.9},{"top":4082.8,"base":4084.4},{"top":4085.6,"base":4086.8},{"top":4088.0,"base":4089.3},{"top":4090.5,"base":4091.7},{"top":4093.3,"base":4094.2},{"top":4102.8,"base":4103.7},{"top":4105.8,"base":4106.7},{"top":4113.5,"base":4114.7},{"top":4116.0,"base":4116.9},{"top":4118.1,"base":4119.3},{"top":4127.9,"base":4129.1},{"top":4130.4,"base":4132.5},{"top":4133.4,"base":4135.3},{"top":4184.7,"base":4185.6},{"top":4199.4,"base":4200.3},{"top":4272.0,"base":4272.9},{"top":4280.0,"base":4281.2},{"top":4283.7,"base":4286.5},{"top":4291.4,"base":4292.6},{"top":4295.1,"base":4297.5},{"top":4301.2,"base":4306.2},{"top":4312.3,"base":4313.2},{"top":4318.5,"base":4333.5},{"top":4366.2,"base":4367.4},{"top":4370.8,"base":4376.6},{"top":4427.7,"base":4429.2},{"top":4487.4,"base":4488.6},{"top":4491.4,"base":4493.2},{"top":4502.5,"base":4503.7},{"top":4504.9,"base":4506.2},{"top":4510.5,"base":4512.9},{"top":4515.4,"base":4516.6},{"top":4523.7,"base":4526.2},{"top":4545.2,"base":4546.8},{"top":4552.0,"base":4553.2},{"top":4564.6,"base":4565.8},{"top":4570.8,"base":4572.9}
],
"zones": [{"zone": "PZ", "top": 3947.6, "base": 4260.7}, {"zone": "NPZ", "top": 4260.7, "base": 4573.6}]
},
"bounds": "flush",
"spacing": 41.6,
"hconcat": [
{
 "width": 208, "height": 678,
 "layer": [
  {"data": {"name": "gr"}, "mark": {"type": "line", "color": "#008000", "strokeWidth": 1.5, "clip": true},
   "encoding": {
    "x": {"field": "GR", "type": "quantitative", "scale": {"domain": [15.4, 168.6], "nice": false, "zero": false}, "axis": {"values": [40, 80, 120, 160], "title": "GR", "grid": true}},
    "y": {"field": "depth", "type": "quantitative", "scale": {"domain": [3947.6, 4573.6], "reverse": true, "nice": false, "zero": false}, "axis": {"values": [4000, 4100, 4200, 4300, 4400, 4500], "format": "d", "title": "Depth (m)", "titleFontSize": 12.5, "titlePadding": 40, "grid": true}},
    "order": {"field": "depth", "type": "quantitative"}}},
  {"data": {"name": "tops"}, "mark": {"type": "rule", "color": "#7a7a7a", "strokeWidth": 1}, "encoding": {"y": {"field": "depth", "type": "quantitative"}}},
  {"data": {"name": "tops"}, "mark": {"type": "text", "align": "right", "baseline": "middle", "fontSize": 10.5, "color": "black", "stroke": "black", "strokeWidth": 0.2}, "encoding": {"y": {"field": "depth", "type": "quantitative"}, "x": {"datum": 15.4}, "text": {"field": "name"}}}
 ]
},
{
 "width": 208, "height": 678,
 "layer": [
  {"data": {"name": "dens"}, "mark": {"type": "line", "color": "#0000ff", "strokeWidth": 1.5, "clip": true},
   "encoding": {
    "x": {"field": "DENS", "type": "quantitative", "scale": {"domain": [1.696, 2.862], "nice": false, "zero": false}, "axis": {"values": [1.75, 2.0, 2.25, 2.5, 2.75], "format": ".2f", "title": "DENS", "grid": true}},
    "y": {"field": "depth", "type": "quantitative", "scale": {"domain": [3947.6, 4573.6], "reverse": true, "nice": false, "zero": false}, "axis": {"values": [4000, 4100, 4200, 4300, 4400, 4500], "labels": false, "title": null, "grid": true}},
    "order": {"field": "depth", "type": "quantitative"}}},
  {"data": {"name": "tops"}, "mark": {"type": "rule", "color": "#7a7a7a", "strokeWidth": 1}, "encoding": {"y": {"field": "depth", "type": "quantitative"}}}
 ]
},
{
 "width": 208, "height": 678,
 "layer": [
  {"data": {"name": "neut"}, "mark": {"type": "line", "color": "#000000", "strokeWidth": 1.5, "clip": true},
   "encoding": {
    "x": {"field": "NEUT", "type": "quantitative", "scale": {"domain": [0.0108, 0.486], "nice": false, "zero": false}, "axis": {"values": [0.1, 0.2, 0.3, 0.4], "format": ".1f", "title": "NEUT", "grid": true}},
    "y": {"field": "depth", "type": "quantitative", "scale": {"domain": [3947.6, 4573.6], "reverse": true, "nice": false, "zero": false}, "axis": {"values": [4000, 4100, 4200, 4300, 4400, 4500], "labels": false, "title": null, "grid": true}},
    "order": {"field": "depth", "type": "quantitative"}}},
  {"data": {"name": "tops"}, "mark": {"type": "rule", "color": "#7a7a7a", "strokeWidth": 1}, "encoding": {"y": {"field": "depth", "type": "quantitative"}}}
 ]
},
{
 "width": 208, "height": 678,
 "layer": [
  {"data": {"name": "rdep"}, "mark": {"type": "line", "color": "#800080", "strokeWidth": 1.5, "clip": true},
   "encoding": {
    "x": {"field": "RDEP", "type": "quantitative", "scale": {"domain": [-0.362, 1.562], "nice": false, "zero": false}, "axis": {"values": [0, 0.4, 0.8, 1.2], "format": ".1f", "title": "RDEP", "grid": true}},
    "y": {"field": "depth", "type": "quantitative", "scale": {"domain": [3947.6, 4573.6], "reverse": true, "nice": false, "zero": false}, "axis": {"values": [4000, 4100, 4200, 4300, 4400, 4500], "labels": false, "title": null, "grid": true}},
    "order": {"field": "depth", "type": "quantitative"}}},
  {"data": {"name": "tops"}, "mark": {"type": "rule", "color": "#7a7a7a", "strokeWidth": 1}, "encoding": {"y": {"field": "depth", "type": "quantitative"}}}
 ]
},
{
 "bounds": "flush",
 "spacing": 4,
 "hconcat": [
  {
   "width": 170, "height": 678,
   "view": {"fill": "#fdf35f", "stroke": "#262626"},
   "data": {"name": "pay"},
   "mark": {"type": "rect", "color": "#228b22"},
   "encoding": {
    "y": {"field": "top", "type": "quantitative", "scale": {"domain": [3947.6, 4573.6], "reverse": true, "nice": false, "zero": false}, "axis": {"values": [3948, 4025.4, 4102.8, 4180.2, 4257.6, 4335, 4412.4, 4489.8, 4567.2], "labels": false, "grid": false, "title": null}},
    "y2": {"field": "base"},
    "x": {"datum": 0, "type": "quantitative", "scale": {"domain": [0, 1], "nice": false, "zero": false}, "axis": {"values": [0.1, 0.3, 0.5, 0.7, 0.9], "labels": false, "grid": false, "title": "PAY", "titlePadding": 10}},
    "x2": {"datum": 1}
   }
  },
  {
   "width": 33.4, "height": 678,
   "data": {"name": "zones"},
   "mark": {"type": "rect"},
   "encoding": {
    "y": {"field": "top", "type": "quantitative", "scale": {"domain": [3947.6, 4573.6], "reverse": true, "nice": false, "zero": false}, "axis": {"orient": "right", "values": [4095, 4420], "labelExpr": "datum.value < 4260 ? 'PZ' : 'NPZ'", "labelAngle": 270, "labelAlign": "center", "labelBaseline": "top", "ticks": false, "grid": false, "title": null, "labelPadding": 11}},
    "y2": {"field": "base"},
    "x": {"datum": 0, "type": "quantitative", "scale": {"domain": [0, 1], "nice": false, "zero": false}, "axis": null},
    "x2": {"datum": 1},
    "color": {"field": "zone", "type": "nominal", "scale": {"domain": ["PZ", "NPZ"], "range": ["#228b22", "#fdf35f"]}, "legend": null}
   }
  }
 ]
}
]
}
